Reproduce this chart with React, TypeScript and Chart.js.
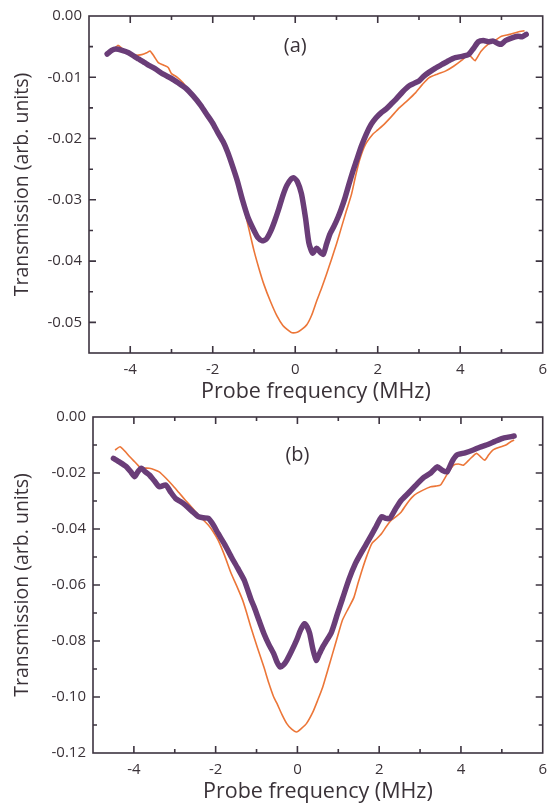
import React, { useEffect, useRef } from "react";
import { Chart, registerables } from "chart.js";

Chart.register(...registerables);

// ---------- Panel (a) data ----------
const aPurpleX = [-4.56, -4.45, -4.35, -4.2, -4.04, -3.9, -3.8, -3.65, -3.56, -3.4, -3.2, -3.0, -2.84, -2.65, -2.48, -2.3, -2.12, -2.0, -1.88, -1.75, -1.64, -1.52, -1.4, -1.28, -1.15, -1.0, -0.9, -0.8, -0.7, -0.6, -0.5, -0.4, -0.3, -0.2, -0.1, -0.04, 0.05, 0.15, 0.25, 0.33, 0.42, 0.52, 0.6, 0.68, 0.76, 0.84, 0.94, 1.04, 1.12, 1.2, 1.3, 1.4, 1.48, 1.6, 1.72, 1.84, 1.96, 2.08, 2.2, 2.32, 2.44, 2.6, 2.76, 2.88, 3.0, 3.12, 3.24, 3.4, 3.56, 3.72, 3.88, 4.04, 4.2, 4.32, 4.44, 4.56, 4.68, 4.8, 4.92, 5.0, 5.1, 5.24, 5.4, 5.5, 5.6];
const aPurpleY = [-0.0062, -0.0056, -0.0054, -0.0056, -0.006, -0.0066, -0.007, -0.0076, -0.008, -0.0086, -0.0095, -0.0102, -0.0109, -0.0118, -0.013, -0.0145, -0.0163, -0.0175, -0.019, -0.0205, -0.0222, -0.0245, -0.027, -0.03, -0.0328, -0.035, -0.0362, -0.0367, -0.0364, -0.0352, -0.0335, -0.0315, -0.0293, -0.0276, -0.0266, -0.0264, -0.027, -0.029, -0.033, -0.037, -0.0387, -0.0379, -0.0385, -0.0389, -0.0372, -0.0356, -0.0343, -0.0328, -0.0314, -0.0298, -0.0275, -0.0253, -0.0237, -0.0213, -0.0193, -0.0177, -0.0166, -0.0158, -0.0152, -0.0144, -0.0136, -0.0124, -0.0114, -0.011, -0.0106, -0.0098, -0.0092, -0.0085, -0.0079, -0.0073, -0.0068, -0.0066, -0.0063, -0.0053, -0.0042, -0.004, -0.0042, -0.0041, -0.0045, -0.0046, -0.004, -0.0036, -0.0033, -0.0034, -0.003];
const aOrangeX = [-4.56, -4.45, -4.3, -4.2, -4.04, -3.9, -3.72, -3.6, -3.52, -3.42, -3.32, -3.2, -3.08, -3.0, -2.86, -2.72, -2.6, -2.48, -2.3, -2.12, -1.95, -1.8, -1.65, -1.52, -1.4, -1.28, -1.15, -1.0, -0.88, -0.76, -0.6, -0.44, -0.3, -0.15, -0.08, 0.05, 0.15, 0.28, 0.4, 0.52, 0.64, 0.76, 0.88, 1.0, 1.12, 1.24, 1.36, 1.46, 1.56, 1.7, 1.88, 2.0, 2.12, 2.32, 2.52, 2.72, 2.92, 3.08, 3.24, 3.44, 3.64, 3.84, 4.04, 4.2, 4.28, 4.36, 4.5, 4.68, 4.84, 5.0, 5.2, 5.4, 5.56];
const aOrangeY = [-0.0064, -0.0058, -0.0048, -0.0053, -0.006, -0.0064, -0.0063, -0.006, -0.0057, -0.0066, -0.0076, -0.008, -0.0084, -0.0094, -0.01, -0.0109, -0.012, -0.0133, -0.0146, -0.0164, -0.0183, -0.02, -0.0222, -0.0248, -0.0272, -0.0302, -0.034, -0.0383, -0.0412, -0.0438, -0.0466, -0.049, -0.0505, -0.0514, -0.0517, -0.0516, -0.0512, -0.0504, -0.0488, -0.0465, -0.0444, -0.0421, -0.0397, -0.0372, -0.0345, -0.0318, -0.0292, -0.0262, -0.0235, -0.021, -0.0193, -0.0186, -0.0179, -0.0165, -0.015, -0.0138, -0.0125, -0.0112, -0.0101, -0.0095, -0.009, -0.0082, -0.0072, -0.0063, -0.0068, -0.0073, -0.0058, -0.0046, -0.004, -0.0033, -0.003, -0.0026, -0.0024];
const aYTicks = [0, -0.01, -0.02, -0.03, -0.04, -0.05];

// ---------- Panel (b) data ----------
const bPurpleX = [-4.5, -4.34, -4.18, -4.08, -3.98, -3.9, -3.82, -3.72, -3.62, -3.5, -3.38, -3.22, -3.1, -2.98, -2.86, -2.74, -2.58, -2.42, -2.3, -2.18, -2.06, -1.94, -1.78, -1.62, -1.46, -1.3, -1.14, -1.06, -0.94, -0.82, -0.7, -0.58, -0.5, -0.42, -0.34, -0.26, -0.14, -0.02, 0.08, 0.18, 0.24, 0.3, 0.38, 0.46, 0.54, 0.62, 0.72, 0.82, 0.9, 0.98, 1.1, 1.26, 1.42, 1.58, 1.74, 1.9, 2.06, 2.16, 2.26, 2.4, 2.54, 2.74, 2.94, 3.1, 3.26, 3.42, 3.54, 3.66, 3.78, 3.9, 4.1, 4.3, 4.46, 4.62, 4.82, 5.02, 5.16, 5.3];
const bPurpleY = [-0.0148, -0.0162, -0.0178, -0.0195, -0.0213, -0.0195, -0.0183, -0.0196, -0.0207, -0.0228, -0.0249, -0.0243, -0.0268, -0.0291, -0.0302, -0.0315, -0.0336, -0.0356, -0.036, -0.0362, -0.0385, -0.0416, -0.0455, -0.0499, -0.054, -0.0583, -0.065, -0.0678, -0.0726, -0.0773, -0.0812, -0.0845, -0.0875, -0.0893, -0.0885, -0.0869, -0.0835, -0.0797, -0.076, -0.0738, -0.075, -0.0773, -0.083, -0.0869, -0.0845, -0.0821, -0.0797, -0.0773, -0.074, -0.0702, -0.065, -0.058, -0.0523, -0.048, -0.044, -0.0398, -0.0356, -0.0362, -0.0362, -0.0328, -0.0297, -0.0268, -0.0237, -0.0215, -0.02, -0.0178, -0.019, -0.0196, -0.016, -0.0136, -0.0128, -0.0118, -0.0108, -0.01, -0.0088, -0.0076, -0.0072, -0.0068];
const bOrangeX = [-4.46, -4.34, -4.22, -4.1, -3.98, -3.86, -3.74, -3.62, -3.5, -3.38, -3.22, -3.06, -2.9, -2.74, -2.58, -2.42, -2.3, -2.18, -2.06, -1.94, -1.78, -1.62, -1.48, -1.34, -1.24, -1.14, -0.98, -0.82, -0.7, -0.58, -0.5, -0.38, -0.26, -0.14, -0.02, 0.1, 0.22, 0.38, 0.5, 0.62, 0.74, 0.86, 0.98, 1.1, 1.24, 1.38, 1.48, 1.58, 1.7, 1.82, 1.94, 2.06, 2.18, 2.3, 2.42, 2.54, 2.7, 2.86, 3.06, 3.26, 3.38, 3.5, 3.66, 3.82, 3.94, 4.06, 4.22, 4.38, 4.48, 4.58, 4.68, 4.78, 4.94, 5.1, 5.2, 5.3];
const bOrangeY = [-0.0118, -0.0106, -0.0122, -0.0142, -0.016, -0.0178, -0.0182, -0.0183, -0.0188, -0.0196, -0.0218, -0.0243, -0.027, -0.0297, -0.0323, -0.035, -0.0368, -0.0386, -0.041, -0.044, -0.0495, -0.0559, -0.0605, -0.0654, -0.07, -0.075, -0.0823, -0.0893, -0.095, -0.1, -0.1023, -0.1062, -0.1095, -0.1115, -0.1125, -0.1112, -0.1095, -0.1053, -0.101, -0.0964, -0.0905, -0.0845, -0.0785, -0.0726, -0.0685, -0.0645, -0.0595, -0.0547, -0.0495, -0.0452, -0.0435, -0.0416, -0.039, -0.0368, -0.0355, -0.0339, -0.0305, -0.0279, -0.0262, -0.0249, -0.0247, -0.0243, -0.0205, -0.0172, -0.0168, -0.0172, -0.015, -0.013, -0.0142, -0.0154, -0.0135, -0.0118, -0.0108, -0.01, -0.009, -0.0082];
const bYTicks = [0, -0.02, -0.04, -0.06, -0.08, -0.1, -0.12];

const xTicks = [-4, -2, 0, 2, 4, 6];
const xMinorTicks = [-5, -3, -1, 1, 3, 5];

const AXIS_COLOR = "#3d3440";
const TEXT_COLOR = "#3a3238";
const PURPLE = "#6a3d78";
const ORANGE = "#ec7638";
const FONT = "'Open Sans', 'DejaVu Sans', sans-serif";

type PanelProps = {
  width: number;
  height: number;
  top: number;
  padTop: number;
  yWidth: number;
  xHeight: number;
  xTitlePad: number;
  yMin: number;
  yStep: number;
  yTicks: number[];
  purpleX: number[];
  purpleY: number[];
  orangeX: number[];
  orangeY: number[];
  label: string;
  labelY: number;
};

function zip(xs: number[], ys: number[]) {
  return xs.map((x, i) => ({ x, y: ys[i] }));
}

function Panel(p: PanelProps) {
  const ref = useRef<HTMLCanvasElement | null>(null);
  useEffect(() => {
    if (!ref.current) return;
    const minorY: number[] = [];
    for (let i = 0; i < p.yTicks.length - 1; i++) minorY.push((p.yTicks[i] + p.yTicks[i + 1]) / 2);
    if (p.yMin < p.yTicks[p.yTicks.length - 1]) minorY.push(p.yTicks[p.yTicks.length - 1] - p.yStep / 2);

    const framePlugin = {
      id: "frame",
      afterDatasetsDraw(chart: any) {
        const { ctx, chartArea: a, scales } = chart;
        const xs = scales.x;
        const ys = scales.y;
        ctx.save();
        ctx.strokeStyle = AXIS_COLOR;
        ctx.lineWidth = 1.6;
        ctx.strokeRect(a.left, a.top, a.right - a.left, a.bottom - a.top);
        const tick = (vals: number[], len: number) => {
          vals.forEach((v) => {
            const px = xs.getPixelForValue(v);
            if (px <= a.left + 1 || px >= a.right - 1) return;
            ctx.beginPath();
            ctx.moveTo(px, a.bottom);
            ctx.lineTo(px, a.bottom - len);
            ctx.moveTo(px, a.top);
            ctx.lineTo(px, a.top + len);
            ctx.stroke();
          });
        };
        const ytick = (vals: number[], len: number) => {
          vals.forEach((v) => {
            const py = ys.getPixelForValue(v);
            if (py <= a.top + 1 || py >= a.bottom - 1) return;
            ctx.beginPath();
            ctx.moveTo(a.left, py);
            ctx.lineTo(a.left + len, py);
            ctx.moveTo(a.right, py);
            ctx.lineTo(a.right - len, py);
            ctx.stroke();
          });
        };
        tick(xTicks, 7);
        tick(xMinorTicks, 4);
        ytick(p.yTicks, 7);
        ytick(minorY, 4);
        ctx.fillStyle = TEXT_COLOR;
        ctx.font = `20px ${FONT}`;
        ctx.textAlign = "center";
        ctx.textBaseline = "middle";
        ctx.fillText(p.label, xs.getPixelForValue(0), ys.getPixelForValue(p.labelY));
        ctx.restore();
      },
    };

    const chart = new Chart(ref.current, {
      type: "line",
      data: {
        datasets: [
          {
            data: zip(p.purpleX, p.purpleY),
            borderColor: PURPLE,
            borderWidth: 5.5,
            pointRadius: 0,
            tension: 0.2,
            borderJoinStyle: "round",
            borderCapStyle: "round",
          },
          {
            data: zip(p.orangeX, p.orangeY),
            borderColor: ORANGE,
            borderWidth: 1.6,
            pointRadius: 0,
            tension: 0.2,
          },
        ],
      },
      options: {
        animation: false,
        responsive: false,
        devicePixelRatio: 1,
        layout: { padding: { top: p.padTop, right: 6, left: 0, bottom: 0 } },
        plugins: { legend: { display: false }, tooltip: { enabled: false } },
        scales: {
          x: {
            type: "linear",
            min: -5,
            max: 6,
            grid: { display: false, drawTicks: false },
            border: { display: false },
            afterBuildTicks: (s: any) => {
              s.ticks = xTicks.map((v) => ({ value: v }));
            },
            afterFit: (s: any) => {
              s.height = p.xHeight;
            },
            ticks: {
              padding: 8,
              color: TEXT_COLOR,
              font: { family: FONT, size: 15 },
              maxRotation: 0,
              callback: (v: any) => String(v),
            },
            title: {
              display: true,
              text: "Probe frequency (MHz)",
              color: TEXT_COLOR,
              font: { family: FONT, size: 21.5, lineHeight: 0.8 },
              padding: { top: 0, bottom: p.xTitlePad },
            },
          },
          y: {
            type: "linear",
            min: p.yMin,
            max: 0,
            grid: { display: false, drawTicks: false },
            border: { display: false },
            afterBuildTicks: (s: any) => {
              s.ticks = p.yTicks.map((v) => ({ value: v }));
            },
            afterFit: (s: any) => {
              s.width = p.yWidth;
            },
            ticks: {
              padding: 7,
              color: TEXT_COLOR,
              font: { family: FONT, size: 15 },
              callback: (v: any) => Number(v).toFixed(2),
            },
            title: {
              display: true,
              text: "Transmission (arb. units)",
              color: TEXT_COLOR,
              font: { family: FONT, size: 19.5, lineHeight: 0.8 },
              padding: { top: 15, bottom: 0 },
            },
          },
        },
      },
      plugins: [framePlugin],
    } as any);
    return () => chart.destroy();
  }, []);
  return (
    <canvas
      ref={ref}
      width={p.width}
      height={p.height}
      style={{ position: "absolute", left: 0, top: p.top, width: p.width, height: p.height }}
    />
  );
}

export default function App() {
  return (
    <div style={{ position: "absolute", left: 0, top: 0, width: 555, height: 805, background: "#fff" }}>
      <Panel
        width={555}
        height={410}
        top={0}
        padTop={15}
        yWidth={89}
        xHeight={57}
        xTitlePad={10}
        yMin={-0.055}
        yStep={0.01}
        yTicks={aYTicks}
        purpleX={aPurpleX}
        purpleY={aPurpleY}
        orangeX={aOrangeX}
        orangeY={aOrangeY}
        label="(a)"
        labelY={-0.0049}
      />
      <Panel
        width={555}
        height={405}
        top={400}
        padTop={17}
        yWidth={93}
        xHeight={52}
        xTitlePad={5}
        yMin={-0.12}
        yStep={0.02}
        yTicks={bYTicks}
        purpleX={bPurpleX}
        purpleY={bPurpleY}
        orangeX={bOrangeX}
        orangeY={bOrangeY}
        label="(b)"
        labelY={-0.0136}
      />
    </div>
  );
}
